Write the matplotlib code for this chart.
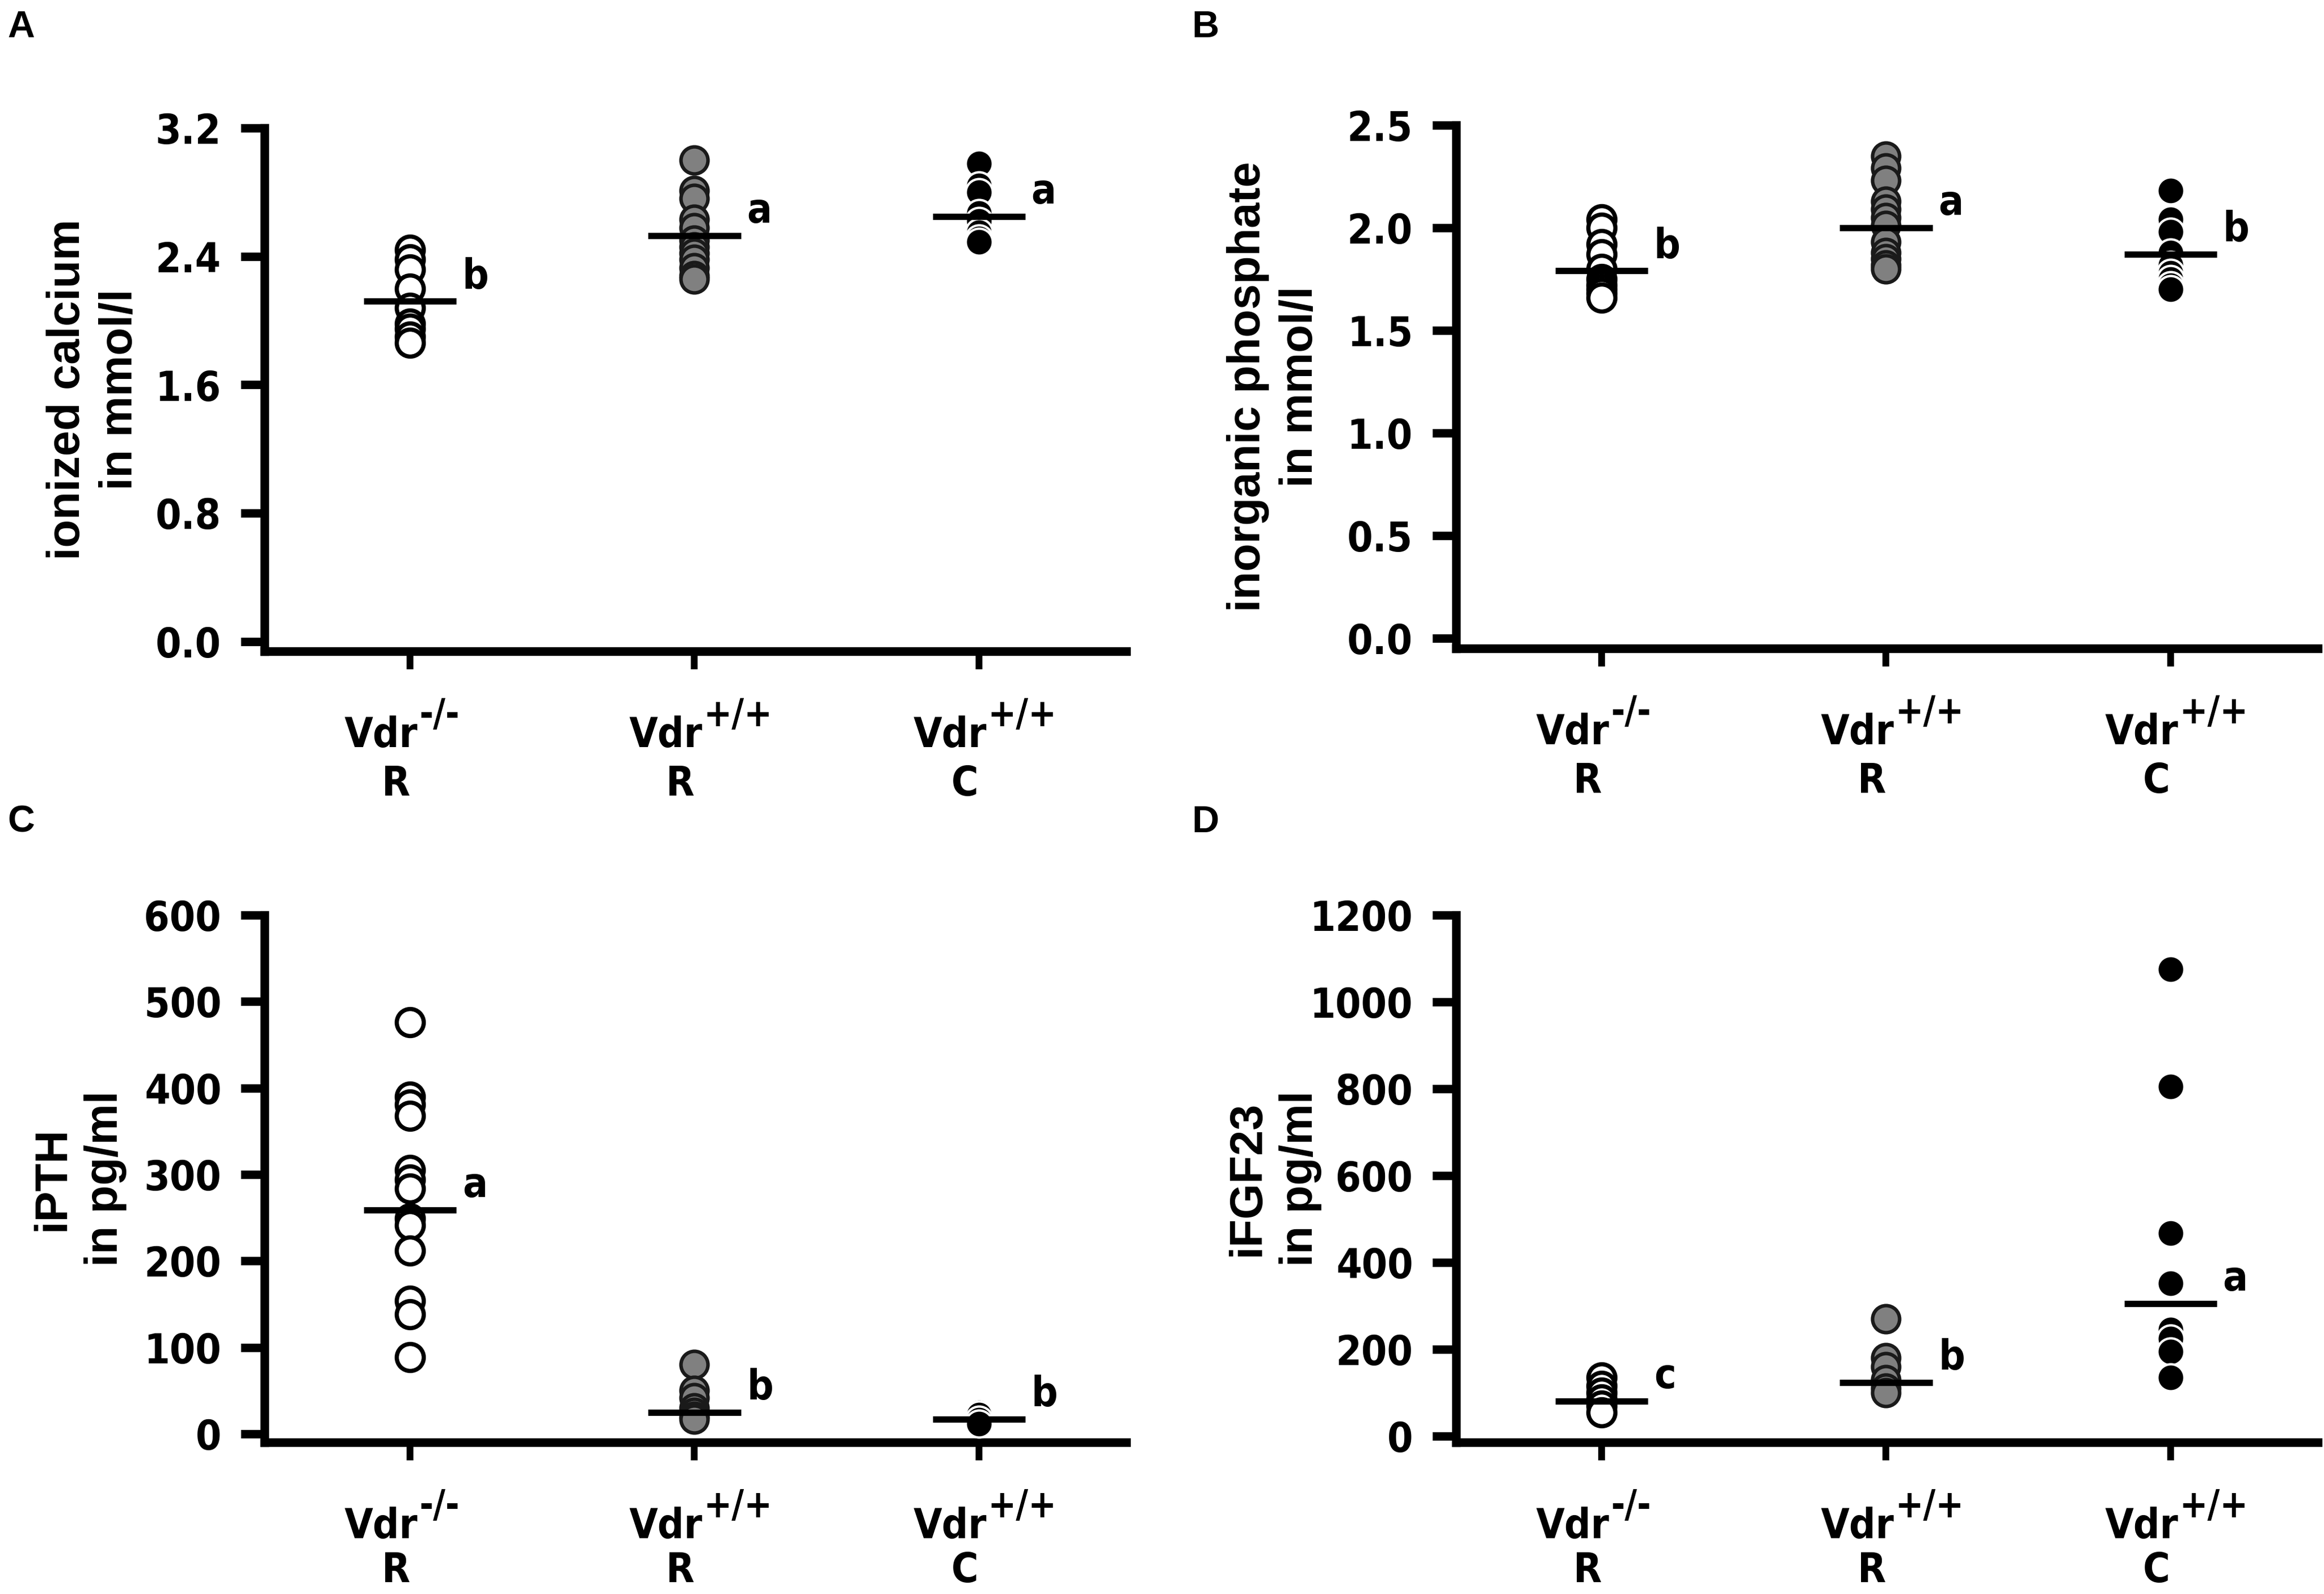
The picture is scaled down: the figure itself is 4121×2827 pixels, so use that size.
import matplotlib
matplotlib.use("Agg")
import matplotlib.pyplot as plt
from matplotlib import font_manager as fm
from matplotlib.transforms import blended_transform_factory, offset_copy

# ---------------- data ----------------
genotypes = ["-/-", "+/+", "+/+"]
diets = ["R", "R", "C"]
gene = "Vdr"

ca_vdr_ko_R = [2.44, 2.38, 2.32, 2.20, 2.08, 1.98, 1.95, 1.90, 1.86]
ca_wt_R = [3.00, 2.81, 2.76, 2.63, 2.58, 2.50, 2.46, 2.42, 2.38, 2.33, 2.28, 2.26]
ca_wt_C = [2.98, 2.84, 2.80, 2.67, 2.62, 2.55, 2.51, 2.49]
ca_means = [2.12, 2.53, 2.65]
ca_letters = ["b", "a", "a"]

pi_vdr_ko_R = [2.04, 2.00, 1.92, 1.87, 1.80, 1.75, 1.72, 1.70, 1.68, 1.66]
pi_wt_R = [2.35, 2.29, 2.23, 2.13, 2.09, 2.05, 2.01, 1.93, 1.88, 1.85, 1.82, 1.80]
pi_wt_C = [2.18, 2.04, 1.98, 1.88, 1.82, 1.78, 1.75, 1.72, 1.70]
pi_means = [1.79, 2.00, 1.87]
pi_letters = ["b", "a", "b"]

pth_vdr_ko_R = [476, 390, 381, 368, 305, 294, 284, 249, 241, 212, 154, 138, 89]
pth_wt_R = [80, 50, 42, 30, 25, 20, 17]
pth_wt_C = [25, 22, 16, 12]
pth_means = [259, 25, 17]
pth_letters = ["a", "b", "b"]

fgf_vdr_ko_R = [135, 115, 100, 85, 70, 55]
fgf_wt_R = [270, 180, 160, 130, 110, 100]
fgf_wt_C = [1075, 805, 467, 352, 245, 225, 195, 135]
fgf_means = [80, 123, 305]
fgf_letters = ["c", "b", "a"]

ca_ticks = [0.0, 0.8, 1.6, 2.4, 3.2]
ca_ticklabels = ["0.0", "0.8", "1.6", "2.4", "3.2"]
pi_ticks = [0.0, 0.5, 1.0, 1.5, 2.0, 2.5]
pi_ticklabels = ["0.0", "0.5", "1.0", "1.5", "2.0", "2.5"]
pth_ticks = [0, 100, 200, 300, 400, 500, 600]
pth_ticklabels = ["0", "100", "200", "300", "400", "500", "600"]
fgf_ticks = [0, 200, 400, 600, 800, 1000, 1200]
fgf_ticklabels = ["0", "200", "400", "600", "800", "1000", "1200"]

ylabels = ["ionized calcium\nin mmol/l", "inorganic phosphate\nin mmol/l",
           "iPTH\nin pg/ml", "iFGF23\nin pg/ml"]
panel_letters = ["A", "B", "C", "D"]

# ---------------- fonts ----------------
def find_narrow_bold():
    cands = []
    for f in fm.fontManager.ttflist:
        n = (f.fname + " " + f.name).lower()
        if ("narrow" in n or "condensed" in n) and "italic" not in n and "oblique" not in n:
            w = f.weight if isinstance(f.weight, int) else (700 if "bold" in str(f.weight).lower() else 400)
            if w >= 600 or "bold" in n:
                pri = 0 if "liberation" in n or "arial" in n else (1 if "sans" in n else 2)
                cands.append((pri, f.fname))
    cands.sort()
    return cands[0][1] if cands else None

_nb = find_narrow_bold()
if _nb:
    NB = fm.FontProperties(fname=_nb)
    NB_SCALE = 1.0
else:
    NB = fm.FontProperties(family="Liberation Sans", weight="bold")
    NB_SCALE = 0.95


def nb(size):
    p = NB.copy()
    p.set_size(size * NB_SCALE)
    return p


SANS = "Liberation Sans"
FS = 17.5

# ---------------- figure ----------------
W, H, DPI = 4121, 2827, 300
fig = plt.figure(figsize=(W / DPI, H / DPI), dpi=DPI)

# panel geometry in pixels: left spine x, right end x, top (max tick) y, x-axis y, zero-tick y
panels = [
    dict(l=469, r=1997, top=227, xax=1155, zero=1138),
    dict(l=2582, r=4110, top=222, xax=1150, zero=1132),
    dict(l=469, r=1997, top=1623, xax=2558, zero=2543),
    dict(l=2582, r=4110, top=1623, xax=2558, zero=2547),
]
letter_pos = [(13, 18), (2113, 18), (13, 1428), (2113, 1428)]
ylabel_x = [-0.198, -0.211, -0.215, -0.211]
r_offset = [-256, -256, -248, -248]

datasets = [
    ([ca_vdr_ko_R, ca_wt_R, ca_wt_C], ca_means, ca_letters, ca_ticks, ca_ticklabels),
    ([pi_vdr_ko_R, pi_wt_R, pi_wt_C], pi_means, pi_letters, pi_ticks, pi_ticklabels),
    ([pth_vdr_ko_R, pth_wt_R, pth_wt_C], pth_means, pth_letters, pth_ticks, pth_ticklabels),
    ([fgf_vdr_ko_R, fgf_wt_R, fgf_wt_C], fgf_means, fgf_letters, fgf_ticks, fgf_ticklabels),
]

styles = [
    dict(mfc="white", mec="black", mew=1.8),
    dict(mfc="#808080", mec="#1a1a1a", mew=1.5),
    dict(mfc="black", mec="white", mew=1.0),
]

SPINE_LW = 3.7
for k, (geo, (groups, means, letters, ticks, ticklabels)) in enumerate(zip(panels, datasets)):
    left = geo["l"] / W
    width = (geo["r"] - geo["l"]) / W
    bottom = 1 - geo["xax"] / H
    height = (geo["xax"] - geo["top"]) / H
    ax = fig.add_axes([left, bottom, width, height])
    ymax = ticks[-1]
    per_px = ymax / (geo["zero"] - geo["top"])
    ymin = -(geo["xax"] - geo["zero"]) * per_px
    ax.set_xlim(-0.512, 2.518)
    ax.set_ylim(ymin, ymax)

    for s in ["top", "right"]:
        ax.spines[s].set_visible(False)
    for s in ["left", "bottom"]:
        ax.spines[s].set_linewidth(SPINE_LW)
        ax.spines[s].set_capstyle("projecting")

    ax.set_yticks(ticks)
    ax.set_yticklabels(ticklabels, fontproperties=nb(FS))
    ax.tick_params(axis="y", direction="out", length=10, width=3.6, pad=8.4)
    ax.set_xticks([0, 1, 2])
    ax.set_xticklabels(["", "", ""])
    ax.tick_params(axis="x", direction="out", length=7.7, width=2.9)

    for i, vals in enumerate(groups):
        st = styles[i]
        ax.plot([i] * len(vals), vals, "o", ms=11.5, mfc=st["mfc"], mec=st["mec"],
                mew=st["mew"], linestyle="none", zorder=3, clip_on=False)
        m = means[i]
        ax.plot([i - 0.163, i + 0.163], [m, m], color="black", lw=2.7,
                solid_capstyle="butt", zorder=4)
        ax.annotate(letters[i], xy=(i + 0.163, m), xytext=(2.5, 5.5),
                    textcoords="offset points", ha="left", va="baseline",
                    fontproperties=nb(FS))

    trans = blended_transform_factory(ax.transData, ax.transAxes)
    for i in range(3):
        t = ax.text(i, 0, gene, transform=offset_copy(trans, fig, x=14, y=-170, units="dots"),
                    ha="right", va="baseline", fontproperties=nb(FS))
        ax.annotate(genotypes[i], xy=(1, 0), xycoords=t, xytext=(0.5, 12.5),
                    textcoords="offset points", ha="left", va="baseline",
                    fontproperties=nb(16))
        ax.text(i, 0, diets[i], transform=offset_copy(trans, fig, x=-25, y=r_offset[k], units="dots"),
                ha="center", va="baseline", fontproperties=nb(FS))

    ax.text(ylabel_x[k], 0.5, ylabels[k], transform=ax.transAxes, rotation=90,
            ha="center", va="center", multialignment="center", fontsize=19.5,
            fontweight="bold", family=SANS, linespacing=1.3)

    lx, ly = letter_pos[k]
    fig.text(lx / W, 1 - ly / H, panel_letters[k], ha="left", va="top",
             fontsize=16, fontweight="bold", family=SANS)

fig.savefig("out.png", dpi=DPI, facecolor="white")
